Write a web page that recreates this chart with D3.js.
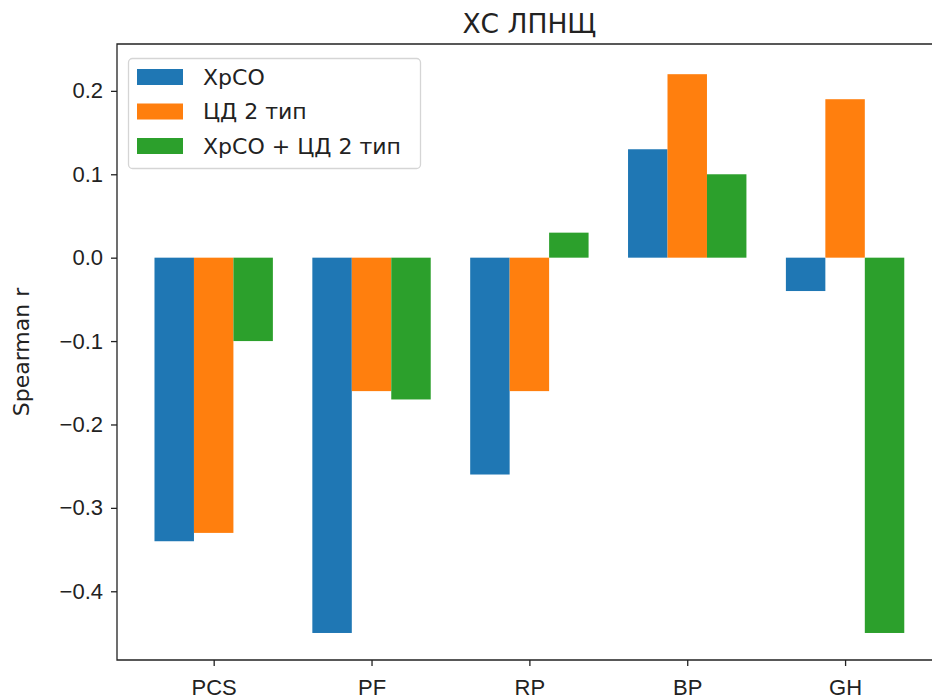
<!DOCTYPE html>
<html>
<head>
<meta charset="utf-8">
<script src="https://cdn.jsdelivr.net/npm/d3@7"></script>
<style>
  html, body { margin: 0; padding: 0; background: #fff; }
  svg { display: block; font-family: "DejaVu Sans", sans-serif; }
</style>
</head>
<body>
<svg id="chart" width="932" height="700"></svg>
<script>
// Spearman correlation per parameter, for three patient groups
const categories = ["PCS", "PF", "RP", "BP", "GH"];
const seriesNames = ["ХрСО", "ЦД 2 тип", "ХрСО + ЦД 2 тип"];
const seriesA = [-0.34, -0.45, -0.26, 0.13, -0.04];   // ХрСО
const seriesB = [-0.33, -0.16, -0.16, 0.22, 0.19];    // ЦД 2 тип
const seriesC = [-0.10, -0.17, 0.03, 0.10, -0.45];    // ХрСО + ЦД 2 тип
const yTicks = [-0.4, -0.3, -0.2, -0.1, 0.0, 0.1, 0.2];
const yLimits = [-0.4824, 0.2562];
const colors = ["#1f77b4", "#ff7f0e", "#2ca02c"];
const title = "ХС ЛПНЩ";
const yLabel = "Spearman r";

const series = [seriesA, seriesB, seriesC];
const barW = 0.25;

const svg = d3.select("#chart");
const plot = { left: 117, top: 44, bottom: 660 };
const unit = 157.85;               // pixels per category step
const xMin = -0.6125, xMax = 4.6125;
const x = d3.scaleLinear().domain([xMin, xMax])
  .range([plot.left, plot.left + (xMax - xMin) * unit]);
const y = d3.scaleLinear().domain(yLimits).range([plot.bottom, plot.top]);

// bars
series.forEach((vals, si) => {
  svg.append("g").selectAll("rect").data(vals).join("rect")
    .attr("x", (d, i) => x(i + (si - 1) * barW - barW / 2))
    .attr("width", x(barW) - x(0))
    .attr("y", d => y(Math.max(0, d)))
    .attr("height", d => Math.abs(y(d) - y(0)))
    .attr("fill", colors[si]);
});

// axes
const xAxis = d3.axisBottom(x)
  .tickValues(categories.map((c, i) => i))
  .tickFormat(i => categories[i])
  .tickSize(6).tickPadding(8);
const yAxis = d3.axisLeft(y)
  .tickValues(yTicks)
  .tickFormat(d => d3.format(".1f")(d).replace("-", "\u2212"))
  .tickSize(6).tickPadding(8);

const gx = svg.append("g").attr("transform", `translate(0,${plot.bottom})`).call(xAxis);
const gy = svg.append("g").attr("transform", `translate(${plot.left},0)`).call(yAxis);
[gx, gy].forEach(g => {
  g.select(".domain").remove();
  g.selectAll(".tick line").attr("stroke", "#222").attr("stroke-width", 1.3);
  g.selectAll(".tick text").attr("fill", "#222").style("font-size", "22px");
});
gx.selectAll(".tick text").attr("dy", "0.95em");

// spines (left, top, bottom)
const xr = x.range();
svg.append("path")
  .attr("d", `M${xr[1]},${plot.top}H${plot.left}V${plot.bottom}H${xr[1]}`)
  .attr("fill", "none").attr("stroke", "#222").attr("stroke-width", 1.3);

// title
svg.append("text")
  .attr("x", (xr[0] + xr[1]) / 2).attr("y", 33)
  .attr("text-anchor", "middle").attr("fill", "#222")
  .style("font-size", "26.5px").text(title);

// y label
svg.append("text")
  .attr("transform", `translate(29,${(plot.top + plot.bottom) / 2}) rotate(-90)`)
  .attr("text-anchor", "middle").attr("fill", "#222")
  .style("font-size", "22px").text(yLabel);

// legend
const lg = svg.append("g").attr("transform", "translate(128,58)");
lg.append("rect").attr("x", 0.5).attr("y", 0.5).attr("width", 292).attr("height", 110)
  .attr("rx", 4).attr("fill", "#fff").attr("fill-opacity", 0.8)
  .attr("stroke", "#d5d5d5").attr("stroke-width", 1.3);
seriesNames.forEach((name, i) => {
  const cy = 19 + i * 34.5;
  lg.append("rect").attr("x", 9).attr("y", cy - 8).attr("width", 46).attr("height", 16)
    .attr("fill", colors[i]);
  lg.append("text").attr("x", 75).attr("y", cy).attr("dy", "0.36em")
    .attr("fill", "#222").style("font-size", "22px").text(name);
});
</script>
</body>
</html>
